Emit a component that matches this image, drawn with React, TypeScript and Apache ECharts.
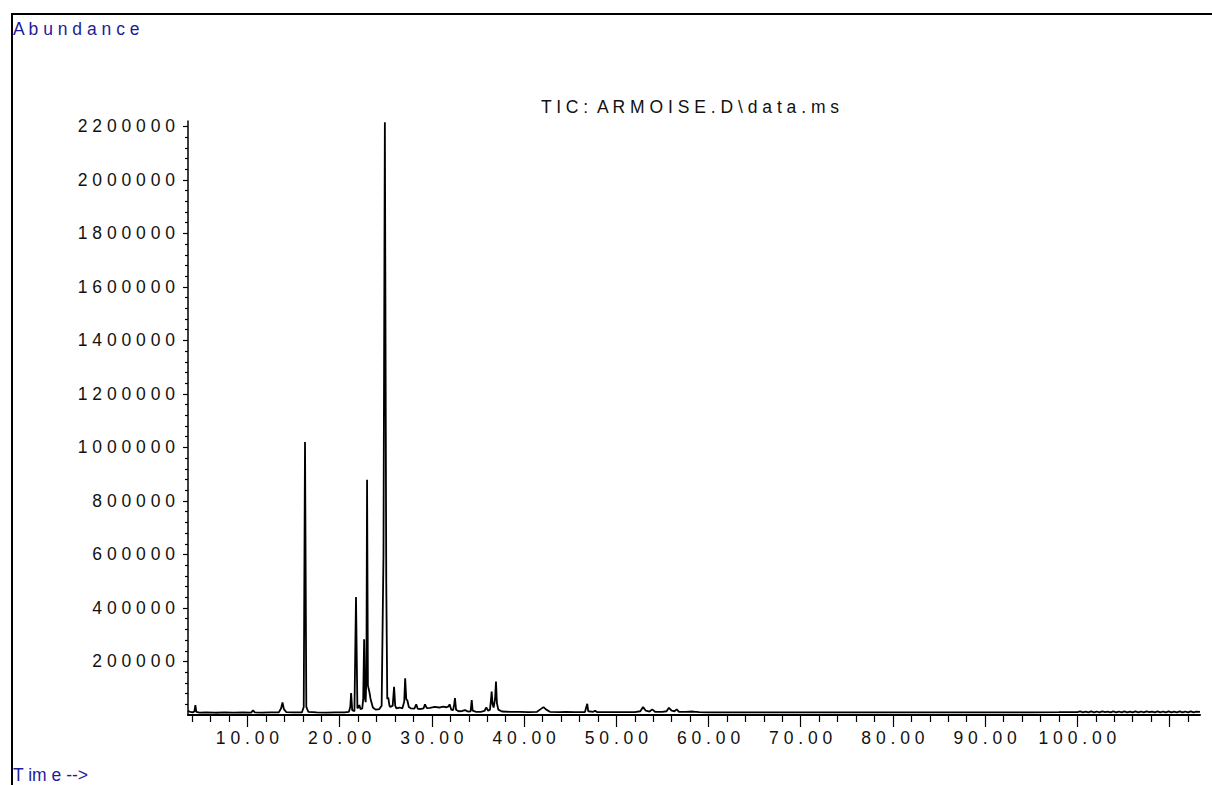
import React, { useEffect, useRef } from "react";
import * as echarts from "echarts";

// Total ion chromatogram (time in minutes, abundance in counts)
const retentionTimes = [
  3.55, 3.8, 4.1, 4.25, 4.35, 4.45, 4.8, 5.5, 6.5, 7.5, 8.5, 9.5, 10.4, 10.6, 10.8, 11.5, 12.5, 13.4, 13.65, 13.8,
  13.95, 14.2, 15.0, 15.9, 16.1, 16.24, 16.38, 16.6, 17.5, 18.5, 19.5, 20.5, 21.0, 21.15, 21.24, 21.36, 21.6, 21.77, 21.92, 22.05,
  22.13, 22.25, 22.45, 22.55, 22.65, 22.75, 22.82, 22.9, 22.97, 23.06, 23.2, 23.35, 23.6, 23.9, 24.3, 24.55, 24.75, 24.9, 25.05, 25.16,
  25.27, 25.4, 25.5, 25.75, 25.9, 26.02, 26.15, 26.5, 26.8, 27.0, 27.1, 27.22, 27.35, 27.5, 27.7, 28.1, 28.3, 28.45, 28.7, 29.1,
  29.25, 29.45, 29.8, 30.3, 30.8, 31.2, 31.6, 31.8, 31.92, 32.1, 32.3, 32.42, 32.5, 32.62, 32.9, 33.3, 33.6, 33.9, 34.2, 34.32,
  34.42, 34.8, 35.3, 35.7, 35.9, 36.1, 36.3, 36.42, 36.48, 36.58, 36.7, 36.85, 36.95, 37.05, 37.2, 37.6, 38.5, 39.5, 40.5, 41.4,
  41.8, 42.1, 42.4, 42.8, 43.8, 44.5, 45.5, 46.6, 46.75, 46.85, 46.95, 47.5, 47.7, 47.9, 49.0, 50.5, 52.0, 52.6, 52.9, 53.2,
  53.6, 53.9, 54.2, 55.0, 55.45, 55.7, 56.0, 56.3, 56.55, 56.8, 57.5, 58.3, 59.0, 60.0, 62.0, 65.0, 68.0, 71.0, 74.0, 77.0,
  80.0, 83.0, 86.0, 89.0, 92.0, 95.0, 98.0, 100.0, 100.3, 100.6, 100.9, 101.2, 101.5, 101.8, 102.1, 102.4, 102.7, 103.0, 103.3, 103.6,
  103.9, 104.2, 104.5, 104.8, 105.1, 105.4, 105.7, 106.0, 106.3, 106.6, 106.9, 107.2, 107.5, 107.8, 108.1, 108.4, 108.7, 109.0, 109.3, 109.6,
  109.9, 110.2, 110.5, 110.8, 111.1, 111.4, 111.7, 112.0, 112.3, 112.6, 112.9, 113.3,
];
const abundance = [
  15000, 12000, 10000, 14000, 37000, 12000, 9000, 10000, 8500, 9500, 9000, 9500, 9000, 17000, 9500, 9000, 9500, 10000, 25000, 47000,
  22000, 11000, 9500, 9500, 30000, 1020000, 30000, 12000, 9500, 9000, 9500, 10000, 12000, 30000, 82000, 18000, 14000, 441000, 25000, 30000,
  37000, 22000, 25000, 60000, 283000, 60000, 48000, 150000, 879000, 110000, 90000, 60000, 28000, 20000, 22000, 35000, 600000, 2215000, 500000, 60000,
  65000, 35000, 30000, 35000, 105000, 35000, 25000, 28000, 25000, 50000, 137000, 60000, 53000, 30000, 25000, 24000, 40000, 24000, 22000, 25000,
  40000, 26000, 27000, 30000, 28000, 31000, 29000, 32000, 40000, 20000, 18000, 40000, 63000, 20000, 14000, 15000, 18000, 13000, 14000, 56000,
  16000, 12000, 12000, 15000, 28000, 16000, 20000, 60000, 88000, 40000, 28000, 60000, 125000, 45000, 20000, 13000, 12000, 11500, 11000, 12000,
  22000, 29500, 20000, 12000, 11000, 12000, 11000, 11000, 30000, 42000, 14000, 12000, 16000, 11000, 10500, 11000, 11000, 14000, 29500, 16000,
  13000, 21000, 12000, 11500, 14000, 27000, 16000, 14000, 21000, 12000, 11500, 13000, 10500, 10000, 9500, 10000, 9500, 10000, 9500, 10000,
  9500, 10000, 9500, 10000, 9500, 10000, 10500, 11000, 13500, 10000, 12500, 9500, 13500, 10000, 13000, 9500, 13500, 10500, 12500, 9500,
  13500, 10000, 13000, 9500, 13500, 10000, 12500, 9500, 13500, 10000, 13000, 9500, 13500, 10500, 12500, 10000, 13500, 9500, 13000, 10000,
  13500, 9500, 12500, 10000, 13500, 10000, 13000, 9500, 13500, 10000, 12500, 12000,
];

// Axis ticks and labels
const xMajorTicks = [10, 20, 30, 40, 50, 60, 70, 80, 90, 100, 110];
const xLabelValues = [10, 20, 30, 40, 50, 60, 70, 80, 90, 100];
const yMajorTicks = [200000, 400000, 600000, 800000, 1000000, 1200000, 1400000, 1600000, 1800000, 2000000, 2200000];
const xMinorTicks: number[] = [];
for (let t = 4; t <= 112; t += 2) if (t % 10 !== 0) xMinorTicks.push(t);
const yMinorTicks: number[] = [];
for (let v = 40000; v < 2200000; v += 40000) if (v % 200000 !== 0) yMinorTicks.push(v);

const X_MIN = 3.55;
const X_MAX = 113.3;
const Y_MIN = 0;
const Y_MAX = 2220000;

const titleParts = ["TIC:", "ARMOISE.D\\data.ms"];
const yAxisName = "Abundance";
const xAxisName = "T im e -->";

const FONT = "'Liberation Sans', Arial, Helvetica, sans-serif";
const spaced = (s: string) => s.split("").join(" ");

export default function App() {
  const ref = useRef<HTMLDivElement>(null);
  useEffect(() => {
    if (!ref.current) return;
    const chart = echarts.init(ref.current, undefined, { renderer: "svg" });
    const data = retentionTimes.map((t, i) => [t, abundance[i]]);
    const tickLine = { color: "#000", width: 1.2 };
    chart.setOption({
      animation: false,
      backgroundColor: "#ffffff",
      grid: { left: 188, right: 12, top: 121, bottom: 70, containLabel: false },
      xAxis: [
        {
          type: "value",
          min: X_MIN,
          max: X_MAX,
          position: "bottom",
          axisLine: { show: true, onZero: false, lineStyle: { color: "#000", width: 2 } },
          axisTick: { show: true, customValues: xMajorTicks, length: 12, lineStyle: tickLine },
          axisLabel: {
            show: true,
            customValues: xLabelValues,
            formatter: (v: number) => spaced(Number(v).toFixed(2)),
            margin: 14,
            fontSize: 17.5,
            color: "#111",
            fontFamily: FONT,
          },
          splitLine: { show: false },
        },
        {
          type: "value",
          min: X_MIN,
          max: X_MAX,
          position: "bottom",
          axisLine: { show: false, onZero: false },
          axisTick: { show: true, customValues: xMinorTicks, length: 7, lineStyle: tickLine },
          axisLabel: { show: false },
          splitLine: { show: false },
        },
      ],
      yAxis: [
        {
          type: "value",
          min: Y_MIN,
          max: Y_MAX,
          position: "left",
          axisLine: { show: true, onZero: false, lineStyle: { color: "#000", width: 1.5 } },
          axisTick: { show: true, customValues: yMajorTicks, length: 5, lineStyle: tickLine },
          axisLabel: {
            show: true,
            customValues: yMajorTicks,
            formatter: (v: number) => spaced(String(Math.round(v))),
            margin: 13,
            fontSize: 17.5,
            color: "#111",
            fontFamily: FONT,
          },
          splitLine: { show: false },
        },
        {
          type: "value",
          min: Y_MIN,
          max: Y_MAX,
          position: "left",
          axisLine: { show: false, onZero: false },
          axisTick: { show: true, customValues: yMinorTicks, length: 3, lineStyle: tickLine },
          axisLabel: { show: false },
          splitLine: { show: false },
        },
      ],
      series: [
        {
          type: "line",
          xAxisIndex: 0,
          yAxisIndex: 0,
          data,
          showSymbol: false,
          symbol: "none",
          silent: true,
          lineStyle: { color: "#000", width: 1.8 },
        },
      ],
      graphic: [
        {
          type: "rect",
          shape: { x: 12, y: 14, width: 1210, height: 800 },
          style: { fill: "none", stroke: "#000", lineWidth: 2 },
          silent: true,
        },
        {
          type: "text",
          x: 13,
          y: 29,
          style: {
            text: spaced(yAxisName),
            fill: "#1c1c9a",
            fontSize: 17.5,
            fontFamily: FONT,
            textAlign: "left",
            textVerticalAlign: "middle",
          },
        },
        {
          type: "text",
          x: 690,
          y: 107,
          style: {
            text: titleParts.map(spaced).join("  "),
            fill: "#111",
            fontSize: 17.5,
            fontFamily: FONT,
            textAlign: "center",
            textVerticalAlign: "middle",
          },
        },
        {
          type: "text",
          x: 13,
          y: 775,
          style: {
            text: xAxisName,
            fill: "#1c1c9a",
            fontSize: 17.5,
            fontFamily: FONT,
            textAlign: "left",
            textVerticalAlign: "middle",
          },
        },
      ],
    });
    return () => chart.dispose();
  }, []);
  return (
    <div
      ref={ref}
      style={{ position: "absolute", left: 0, top: 0, width: 1212, height: 785, background: "#fff" }}
    />
  );
}
